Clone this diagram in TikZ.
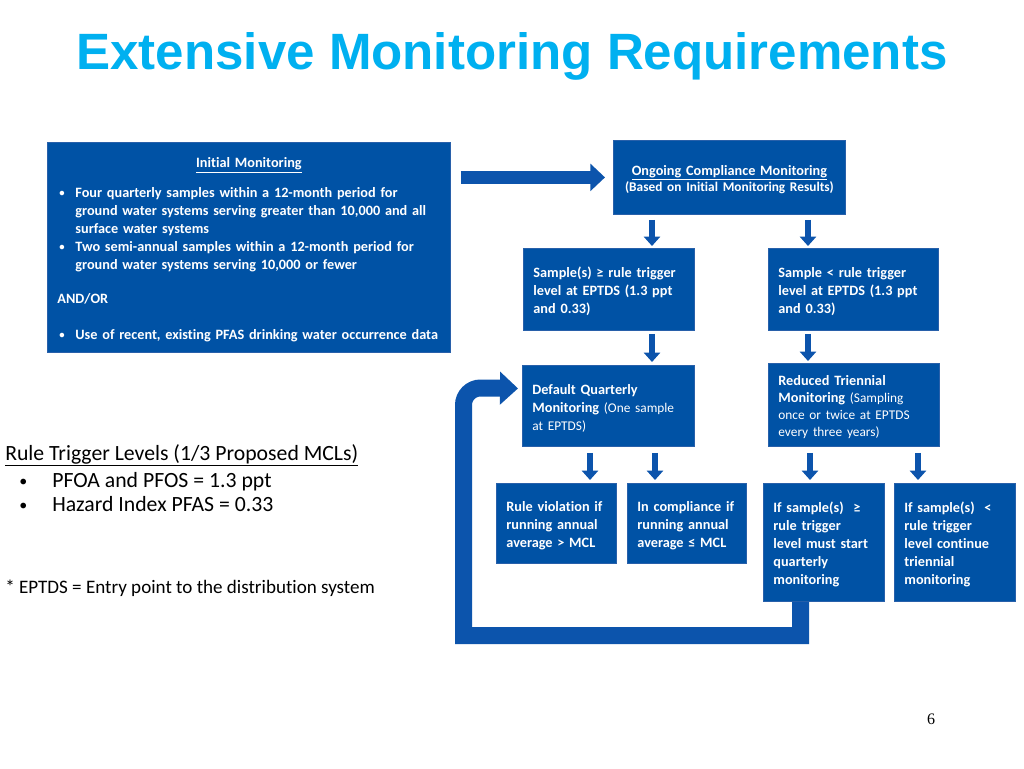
\documentclass[tikz,border=0pt]{standalone}
\usepackage{fontspec}
\setmainfont{Carlito}[Ligatures={NoCommon}]
\newfontfamily\titlefont{Liberation Sans}
\newfontfamily\numfont{Liberation Serif}
\usetikzlibrary{arrows.meta}
\definecolor{boxblue}{RGB}{0,82,165}
\definecolor{boxedge}{RGB}{40,96,170}
\definecolor{arrblue}{RGB}{12,84,172}
\definecolor{titlecyan}{RGB}{0,176,240}
\newcommand\regtext{\mdseries\fontsize{10}{13.5}\selectfont}
\newcommand\smallbul{\raisebox{0.5pt}{\fontsize{8}{8}\selectfont\textbullet}}
\newcommand\legbul{\raisebox{0.5pt}{\fontsize{12}{12}\selectfont\textbullet}}
\newcommand\lne[1]{\mbox{#1}}
\begin{document}
\begin{tikzpicture}[x=0.75pt,y=-0.75pt,
  box/.style={draw=boxedge, line width=0.6pt, fill=boxblue, text=white,
    anchor=north west, inner xsep=7.5pt, inner ysep=0pt, align=left,
    execute at begin node={\rule{0pt}{11pt}},
    font=\bfseries\fontsize{10.7}{13.5}\selectfont},
  dn/.style={draw=arrblue, line width=5pt, -{Triangle[width=12pt,length=7pt]}},
  bigarr/.style={draw=arrblue, line width=9.5pt, -{Triangle[width=20pt,length=11pt]}},
  fb/.style={draw=arrblue, line width=12.75pt, line join=miter, -{Triangle[width=24pt,length=13.5pt]}},
  plain/.style={inner sep=0pt, anchor=base west}
]
\useasboundingbox[fill=white] (0,0) rectangle (1024,768);

% title
\node[plain, anchor=base, text=titlecyan, font=\titlefont\bfseries\fontsize{38.3}{40}\selectfont] (title) at (512,69) {Extensive Monitoring Requirements};

% initial monitoring
\node[box, minimum width=302.25pt, minimum height=157.5pt, text width=287.25pt] (init) at (47,142) {%
\makebox[\linewidth][c]{\underline{Initial Monitoring}}\\[9pt]
\makebox[13.5pt][l]{\hspace{1.5pt}\smallbul}\lne{Four quarterly samples within a 12-month period for}\\
\hspace*{13.5pt}\lne{ground water systems serving greater than 10,000 and all}\\
\hspace*{13.5pt}\lne{surface water systems}\\
\makebox[13.5pt][l]{\hspace{1.5pt}\smallbul}\lne{Two semi-annual samples within a 12-month period for}\\
\hspace*{13.5pt}\lne{ground water systems serving 10,000 or fewer}\\[12pt]
AND/OR\\[13.5pt]
\makebox[13.5pt][l]{\hspace{1.5pt}\smallbul}\lne{Use of recent, existing PFAS drinking water occurrence data}};

% ongoing
\node[box, align=center, minimum width=174pt, minimum height=55.5pt, text width=159pt] (ongo) at (613,140) {%
\underline{Ongoing Compliance Monitoring}\\[-1pt]
{\fontsize{10}{12}\selectfont (Based on Initial Monitoring Results)}};

% second row
\node[box, minimum width=128.25pt, minimum height=61.5pt, text width=113.25pt] (sge) at (523,248) {%
\lne{Sample(s) ≥ rule trigger}\\\lne{level at EPTDS (1.3 ppt}\\\lne{and 0.33)}};
\node[box, minimum width=127.5pt, minimum height=61.5pt, text width=112.5pt] (slt) at (768,248) {%
\lne{Sample < rule trigger}\\\lne{level at EPTDS (1.3 ppt}\\\lne{and 0.33)}};

% third row
\node[box, minimum width=129pt, minimum height=60.75pt, text width=114pt] (dq) at (522,365) {%
\lne{Default Quarterly}\\\lne{Monitoring {\regtext (One sample}}\\{\regtext at EPTDS)}};
\node[box, minimum width=128.25pt, minimum height=62.25pt, text width=113.25pt,
  font=\bfseries\fontsize{10.7}{12.75}\selectfont] (rt) at (768,363) {%
\lne{Reduced Triennial}\\\lne{Monitoring {\regtext (Sampling}}\\\lne{\regtext once or twice at EPTDS}\\\lne{\regtext every three years)}};

% bottom row
\node[box, minimum width=90pt, minimum height=60pt, text width=75pt] (rv) at (496,483) {%
\lne{Rule violation if}\\\lne{running annual}\\\lne{average > MCL}};
\node[box, minimum width=89.25pt, minimum height=60pt, text width=74.25pt] (ic) at (627,483) {%
\lne{In compliance if}\\\lne{running annual}\\\lne{average ≤ MCL}};
\node[box, minimum width=90.75pt, minimum height=88.5pt, text width=75.75pt] (ifge) at (763,483) {%
\lne{If sample(s)~ ≥}\\\lne{rule trigger}\\\lne{level must start}\\\lne{quarterly}\\\lne{monitoring}};
\node[box, minimum width=90.75pt, minimum height=88.5pt, text width=75.75pt] (iflt) at (894,483) {%
\lne{If sample(s)~ <}\\\lne{rule trigger}\\\lne{level continue}\\\lne{triennial}\\\lne{monitoring}};

% arrow columns
\coordinate (c1) at (652,0);
\coordinate (c2) at (808,0);
\coordinate (c3) at (590,0);
\coordinate (c4) at (655,0);
\coordinate (c5) at (810,0);
\coordinate (c6) at (918,0);

\draw[bigarr, shorten <=7.5pt, shorten >=6pt] (init.east |- ongo.west) -- (ongo.west);
\draw[dn, shorten <=3.75pt, shorten >=1.5pt] (ongo.south -| c1) -- (sge.north -| c1);
\draw[dn, shorten <=3.75pt, shorten >=1.5pt] (ongo.south -| c2) -- (slt.north -| c2);
\draw[dn, shorten <=2.25pt, shorten >=2.25pt] (sge.south -| c1) -- (dq.north -| c1);
\draw[dn, shorten <=2.25pt, shorten >=1.5pt] (slt.south -| c2) -- (rt.north -| c2);
\draw[dn, shorten <=4.5pt, shorten >=2.25pt] (dq.south -| c3) -- (rv.north -| c3);
\draw[dn, shorten <=4.5pt, shorten >=2.25pt] (dq.south -| c4) -- (ic.north -| c4);
\draw[dn, shorten <=4.5pt, shorten >=2.25pt] (rt.south -| c5) -- (ifge.north -| c5);
\draw[dn, shorten <=4.5pt, shorten >=2.25pt] (rt.south -| c6) -- (iflt.north -| c6);

% feedback loop
\coordinate (fbx) at (800.5,0);
\coordinate (fby) at (0,635.5);
\coordinate (fbl) at (463.5,0);
\coordinate (dqin) at ([xshift=-3pt,yshift=13.1pt]dq.west);
\coordinate (fbc) at (463.5,405);
\draw[fb] (ifge.south -| fbx) -- (fbx |- fby) -- (fbl |- fby) -- (fbc)
  arc[start angle=180, end angle=90, radius=12.75pt] -- (dqin);

% legend
\node[plain, font=\fontsize{16.3}{19.5}\selectfont] (leg) at (5,460) {\underline{Rule Trigger Levels (1/3 Proposed MCLs)}};
\node[plain, font=\fontsize{16.3}{19.5}\selectfont] (b1) at (19,487) {\legbul};
\node[plain, font=\fontsize{16.3}{19.5}\selectfont] (t1) at (52,487) {PFOA and PFOS = 1.3 ppt};
\node[plain, font=\fontsize{16.3}{19.5}\selectfont] (b2) at (19,511) {\legbul};
\node[plain, font=\fontsize{16.3}{19.5}\selectfont] (t2) at (52,511) {Hazard Index PFAS = 0.33};
\node[plain, font=\fontsize{14.3}{17}\selectfont] (note) at (5,593) {* EPTDS = Entry point to the distribution system};

% page number
\node[plain, anchor=base, font=\numfont\fontsize{12}{14}\selectfont] (pg) at (931,724) {6};
\end{tikzpicture}
\end{document}
